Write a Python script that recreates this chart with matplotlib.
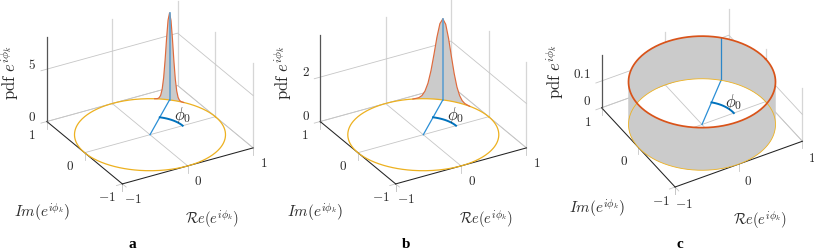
import numpy as np
import matplotlib
matplotlib.use("Agg")
import matplotlib.pyplot as plt
from mpl_toolkits.mplot3d import proj3d
from mpl_toolkits.mplot3d.art3d import Poly3DCollection

plt.rcParams["mathtext.fontset"] = "cm"
plt.rcParams["font.family"] = ["Liberation Serif", "DejaVu Serif"]

# ---- values -----------------------------------------------------------
phi0_deg = 45
xy_ticks = [-1, 0, 1]
offsets_a = [-.20, -.18, -.16, -.14, -.12, -.10, -.08, -.06, -.04, -.02, 0,
             .02, .04, .06, .08, .10, .12, .14, .16, .18, .20]
pdf_a = [0, .01, .03, .12, .36, .95, 2.07, 3.80, 5.87, 7.61, 8.30,
         7.61, 5.87, 3.80, 2.07, .95, .36, .12, .03, .01, 0]
offsets_b = [-.40, -.36, -.32, -.28, -.24, -.20, -.16, -.12, -.08, -.04, 0,
             .04, .08, .12, .16, .20, .24, .28, .32, .36, .40]
pdf_b = [0, .02, .05, .14, .34, .70, 1.27, 2.01, 2.80, 3.42, 3.65,
         3.42, 2.80, 2.01, 1.27, .70, .34, .14, .05, .02, 0]
pdf_c = 0.159
zticks_a, zlabels_a = [0, 5], ["$0$", "$5$"]
zticks_b, zlabels_b = [0, 2], ["$0$", "$2$"]
zticks_c, zlabels_c = [0, 0.1], ["$0$", "$0.1$"]
zmax_a, zmax_b, zmax_c = 8.1, 3.88, 0.197

# ---- layout -------------------------------------------------------------
W, H = 814, 251
panels = [
    dict(name="a", center=(150.0, 135.7), sx=75.5, elev=28.5, ez=10.47,
         zticks=zticks_a, zlabels=zlabels_a, zmax=zmax_a,
         tx=(10.7, -15), ty=(-15, -13), tz=5.5, im=(-80.7, -27.7), re=(90, -34),
         pdf=(-37, 50), let=(10, -63.2), phi=(32.7, 20.7)),
    dict(name="b", center=(423.3, 135.7), sx=75.5, elev=28.5, ez=22.2,
         zticks=zticks_b, zlabels=zlabels_b, zmax=zmax_b,
         tx=(10.7, -15), ty=(-15, -13), tz=6.0, im=(-80.3, -27.7), re=(90, -34),
         pdf=(-37, 49.6), let=(10, -63.2), phi=(32.7, 20.7)),
    dict(name="c", center=(702.0, 125.5), sx=73.5, elev=38.5, ez=268.0,
         zticks=zticks_c, zlabels=zlabels_c, zmax=zmax_c,
         tx=(9, -16), ty=(-14, -13.5), tz=7.0, im=(-77.7, -21), re=(84.3, -32),
         pdf=(-46.7, 37), let=(4.3, -60.2), phi=(32, 23.7)),
]
AZIM = -120
GRID, VGRID = "#c6c6c6", "#d6d6d6"
ORANGE, RED, BLUE = "#EDB120", "#D95319", "#0072BD"
FILL = "#cbcbcb"
TXT = "#2a2a2a"
TICK_PX = 7.0

fig = plt.figure(figsize=(W / 100, H / 100), dpi=100)


def make_axes(p):
    S0 = 500.0
    ax = fig.add_axes([0, 0, S0 / W, S0 / H], projection="3d", computed_zorder=False)
    ax.set_proj_type("ortho")
    ax.view_init(elev=p["elev"], azim=AZIM)
    cz = np.cos(np.radians(p["elev"]))
    ax.set_box_aspect((2 * p["sx"], 2 * p["sx"], p["zmax"] * p["ez"] / cz))
    ax.set_axis_off()
    ax.patch.set_visible(False)
    return ax


def to_pixels(ax, M, x, y, z):
    ax.apply_aspect()
    u, v, _ = proj3d.proj_transform(x, y, z, M)
    return ax.transData.transform((u, v))


def calibrate(ax, p):
    ax.set_xlim(-1, 1, view_margin=0)
    ax.set_ylim(-1, 1, view_margin=0)
    ax.set_zlim(0, p["zmax"], view_margin=0)
    M = ax.get_proj()
    S = 500.0
    d = to_pixels(ax, M, 1, 0, 0) - to_pixels(ax, M, -1, 0, 0)
    scale = np.hypot(*d) / 2
    target = p["sx"] * np.hypot(np.sin(np.radians(AZIM)),
                                np.sin(np.radians(p["elev"])) * np.cos(np.radians(AZIM)))
    S *= target / scale
    ax.set_position([0, 0, S / W, S / H])
    o = to_pixels(ax, M, 0, 0, 0)
    cx, cy = p["center"]
    ax.set_position([(cx - o[0]) / W, (H - cy - o[1]) / H, S / W, S / H])
    return M


def draw_panel(p):
    ax = make_axes(p)
    zmax, ez = p["zmax"], p["ez"]
    tz = TICK_PX / ez
    tk = dict(color=GRID, lw=0.6, zorder=1)

    # floor grid
    for v in (0, 1):
        ax.plot([v, v], [-1, 1], [0, 0], **tk)
        ax.plot([-1, 1], [v, v], [0, 0], **tk)
    # vertical grid on back walls
    for x, y in [(0, 1), (1, 1), (1, 0), (1, -1)]:
        ax.plot([x, x], [y, y], [0, zmax], color=VGRID, lw=0.9, zorder=1)
    # z tick lines running round the walls
    for z in p["zticks"]:
        ax.plot([-1.09, 1, 1], [1, 1, -1], [z, z, z], **tk)
    # ticks below the axes
    for v in xy_ticks:
        ax.plot([v, v], [-1, -1], [0, -tz], **tk)
        ax.plot([-1, -1], [v, v], [0, -tz], **tk)
    ax.plot([-1, -1.09], [-1, -1], [0, 0], **tk)
    ax.plot([-1, -1], [-1, -1.1], [0, 0], **tk)
    # axis lines
    ax.plot([-1, 1], [-1, -1], [0, 0], color="#222222", lw=0.75, zorder=2)
    ax.plot([-1, -1], [-1, 1], [0, 0], color="#222222", lw=0.75, zorder=2)
    ax.plot([-1, -1], [1, 1], [0, zmax], color="#555555", lw=0.9, zorder=2)

    phi0 = np.radians(phi0_deg)
    t = np.linspace(0, 2 * np.pi, 361)

    if p["name"] in "ab":
        off = np.array(offsets_a if p["name"] == "a" else offsets_b)
        pdf = np.array(pdf_a if p["name"] == "a" else pdf_b)
        cx, cy = np.cos(phi0 + off), np.sin(phi0 + off)
        verts = list(zip(cx, cy, pdf)) + list(zip(cx[::-1], cy[::-1], 0 * pdf))
        ax.add_collection3d(Poly3DCollection([verts], facecolors=FILL, edgecolors="none",
                                             zorder=3), autolim=False)
        ax.plot(np.cos(t), np.sin(t), 0 * t, color=ORANGE, lw=0.9, zorder=4)
        ax.plot(cx, cy, pdf, color="#DF6A3C", lw=0.85, zorder=5)
        ax.plot([np.cos(phi0)] * 2, [np.sin(phi0)] * 2, [0, pdf.max()],
                color="#5f9fcf", lw=1.2, zorder=6)
    else:
        t1 = np.linspace(np.radians(-30), np.radians(150), 181)
        t2 = np.linspace(np.radians(150), np.radians(330), 181)
        for tt, zo in ((t1, 4), (t2, 7)):
            vx, vy = np.cos(tt), np.sin(tt)
            verts = list(zip(vx, vy, 0 * tt)) + list(zip(vx[::-1], vy[::-1], 0 * tt + pdf_c))
            ax.add_collection3d(Poly3DCollection([verts], facecolors=FILL, edgecolors="none",
                                                 zorder=zo), autolim=False)
        ax.plot(np.cos(t), np.sin(t), 0 * t, color=ORANGE, lw=0.6, zorder=7.5)
        ax.plot(np.cos(t), np.sin(t), 0 * t + pdf_c, color=RED, lw=1.25, zorder=8)
        ax.plot([np.cos(phi0)] * 2, [np.sin(phi0)] * 2, [0, pdf_c],
                color="#2b86c8", lw=0.9, zorder=6)

    # radial line and angle arc
    ax.plot([0, np.cos(phi0)], [0, np.sin(phi0)], [0, 0], color="#2b8fd6", lw=0.9, zorder=6)
    arc = np.linspace(0, phi0, 40)
    ax.plot(0.5 * np.cos(arc), 0.5 * np.sin(arc), 0 * arc, color=BLUE, lw=1.4, zorder=7)

    M = calibrate(ax, p)

    # labels: anchored at a projected 3D point with an offset in pixels
    def label(x, y, z, dx, dy, s, **kw):
        kw.setdefault("color", TXT)
        kw.setdefault("zorder", 10)
        kw.setdefault("ha", "center")
        kw.setdefault("va", "center")
        px, py = to_pixels(ax, M, x, y, z)
        fig.text((px + dx) / W, (py + dy) / H, s, **kw)

    for v in xy_ticks:
        label(v, -1, 0, *p["tx"], f"${v}$", fontsize=9.5)
        label(-1, v, 0, *p["ty"], f"${v}$", fontsize=9.5)
    for z, s in zip(p["zticks"], p["zlabels"]):
        label(-1, 1, z, -10.5, p["tz"], s, fontsize=9.5, ha="right")
    label(-1, -1, 0, *p["im"], r"$\mathit{Im}(e^{i\phi_k})$", fontsize=11)
    label(-1, -1, 0, *p["re"], r"$\mathcal{R}e(e^{i\phi_k})$", fontsize=10.5)
    label(-1, 1, 0, *p["pdf"], r"$\mathrm{pdf}\ e^{i\phi_k}$", fontsize=12, rotation=90)
    label(-1, -1, 0, *p["let"], p["name"], fontsize=11, fontweight="bold", color="black",
          va="baseline")
    label(0, 0, 0, *p["phi"], r"$\phi_0$", fontsize=12)


for panel in panels:
    draw_panel(panel)

fig.savefig("out.png", dpi=100)
